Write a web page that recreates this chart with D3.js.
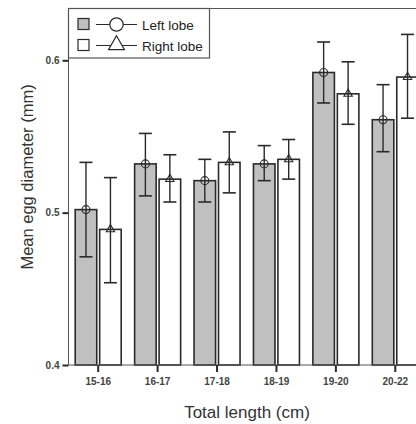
<!DOCTYPE html>
<html>
<head>
<meta charset="utf-8">
<script src="https://cdn.jsdelivr.net/npm/d3@7"></script>
<style>
  html, body { margin: 0; padding: 0; background: #fff; }
  svg { display: block; font-family: "Liberation Sans", Arial, sans-serif; }
</style>
</head>
<body>
<div id="chart"></div>
<script>
// data
const categories = ['15-16', '16-17', '17-18', '18-19', '19-20', '20-22']
const series = ['Left lobe', 'Right lobe']
const leftMean  = [0.502, 0.532, 0.521, 0.532, 0.592, 0.561]
const leftLow   = [0.471, 0.511, 0.507, 0.521, 0.572, 0.540]
const leftHigh  = [0.533, 0.552, 0.535, 0.544, 0.612, 0.584]
const rightMean = [0.489, 0.522, 0.533, 0.535, 0.578, 0.589]
const rightLow  = [0.454, 0.507, 0.513, 0.522, 0.558, 0.562]
const rightHigh = [0.523, 0.538, 0.553, 0.548, 0.599, 0.617]
const yTicks = [0.4, 0.5, 0.6]

const width = 416, height = 424
const m = { left: 68.5, top: 8.5, bottom: 365 }
const plotRight = 425

const svg = d3.select('#chart').append('svg')
    .attr('width', width)
    .attr('height', height)

const y = d3.scaleLinear().domain([0.4, 0.634]).range([m.bottom, m.top])
const x0 = d3.scaleBand().domain(categories).range([m.left, plotRight])
const x1 = d3.scaleBand().domain(series)
    .range([x0.bandwidth() / 2 - 23, x0.bandwidth() / 2 + 23])
    .paddingInner(0.12)

const rows = []
categories.forEach((c, i) => {
    rows.push({ cat: c, s: 'Left lobe', mean: leftMean[i], lo: leftLow[i], hi: leftHigh[i] })
    rows.push({ cat: c, s: 'Right lobe', mean: rightMean[i], lo: rightLow[i], hi: rightHigh[i] })
})
const fill = { 'Left lobe': '#c0c0c0', 'Right lobe': '#ffffff' }
const ink = '#2a2a2a'

// bars
svg.append('g').selectAll('rect')
    .data(rows)
    .enter()
    .append('rect')
        .attr('x', d => x0(d.cat) + x1(d.s))
        .attr('y', d => y(d.mean))
        .attr('width', x1.bandwidth())
        .attr('height', d => y(0.4) - y(d.mean))
        .style('fill', d => fill[d.s])
        .style('stroke', ink)
        .style('stroke-width', 1.6)

// error bars
const eb = svg.append('g').selectAll('g')
    .data(rows)
    .enter()
    .append('g')
    .attr('transform', d => 'translate(' + (x0(d.cat) + x1(d.s) + x1.bandwidth() / 2) + ',0)')
eb.append('line')
    .attr('y1', d => y(d.lo)).attr('y2', d => y(d.hi))
    .style('stroke', ink).style('stroke-width', 1.4)
eb.append('line')
    .attr('x1', -6.5).attr('x2', 6.5)
    .attr('y1', d => y(d.hi)).attr('y2', d => y(d.hi))
    .style('stroke', ink).style('stroke-width', 1.6)
eb.append('line')
    .attr('x1', -6.5).attr('x2', 6.5)
    .attr('y1', d => y(d.lo)).attr('y2', d => y(d.lo))
    .style('stroke', ink).style('stroke-width', 1.6)
// markers at the means
eb.append('path')
    .attr('transform', d => 'translate(0,' + y(d.mean) + ')')
    .attr('d', d => d.s == 'Left lobe'
        ? d3.symbol().type(d3.symbolCircle).size(50)()
        : d3.symbol().type(d3.symbolTriangle).size(30)())
    .style('fill', 'none')
    .style('stroke', ink)
    .style('stroke-width', 1.1)

// frame: top line
svg.append('line')
    .attr('x1', m.left).attr('x2', width)
    .attr('y1', m.top).attr('y2', m.top)
    .style('stroke', '#555').style('stroke-width', 1.2)

const yAxis = svg.append('g')
    .attr('transform', 'translate(' + m.left + ',0)')
    .call(d3.axisLeft(y).tickValues(yTicks).tickFormat(d3.format('.1f')).tickSize(6).tickPadding(3))
yAxis.select('.domain').attr('d', 'M0,' + m.top + 'V' + m.bottom).style('stroke', '#555')
yAxis.selectAll('.tick line').style('stroke', ink).style('stroke-width', 2)
yAxis.selectAll('.tick text').style('font-size', '10px').style('font-weight', 'bold').style('fill', '#444')

const xAxis = svg.append('g')
    .attr('transform', 'translate(0,' + m.bottom + ')')
    .call(d3.axisBottom(x0).tickSize(7).tickPadding(6))
xAxis.select('.domain').attr('d', 'M' + m.left + ',0H' + width).style('stroke', '#555')
xAxis.selectAll('.tick line').style('stroke', ink).style('stroke-width', 2)
xAxis.selectAll('.tick text').style('font-size', '10px').style('font-weight', 'bold').style('fill', '#444')

// axis titles
svg.append('text')
    .attr('x', 247).attr('y', 418)
    .attr('text-anchor', 'middle')
    .style('font-size', '17px').style('fill', '#333')
    .text('Total length (cm)')
svg.append('text')
    .attr('transform', 'translate(33,177) rotate(-90)')
    .attr('text-anchor', 'middle')
    .style('font-size', '16.5px').style('fill', '#333')
    .text('Mean egg diameter (mm)')

// legend
const lg = svg.append('g')
lg.append('rect')
    .attr('x', m.left).attr('y', m.top).attr('width', 141).attr('height', 49.5)
    .style('fill', '#fff').style('stroke', '#555').style('stroke-width', 1.2)
const items = lg.selectAll('.item')
    .data(series)
    .enter()
    .append('g')
    .attr('transform', (d, i) => 'translate(0,' + (24.5 + i * 21) + ')')
items.append('rect')
    .attr('x', 78).attr('y', -6).attr('width', 11).attr('height', 11)
    .style('fill', d => fill[d]).style('stroke', ink).style('stroke-width', 1.2)
items.append('line')
    .attr('x1', 96).attr('x2', 137)
    .style('stroke', ink).style('stroke-width', 1.2)
items.append('path')
    .attr('transform', (d, i) => 'translate(116.5,' + (i ? -0.5 : 0) + ')')
    .attr('d', d => d == 'Left lobe'
        ? d3.symbol().type(d3.symbolCircle).size(140)()
        : d3.symbol().type(d3.symbolTriangle).size(110)())
    .style('fill', '#fff').style('stroke', ink).style('stroke-width', 1.2)
items.append('text')
    .attr('x', 142).attr('y', 5)
    .style('font-size', '13.5px').style('fill', '#222')
    .text(d => d)
</script>
</body>
</html>
